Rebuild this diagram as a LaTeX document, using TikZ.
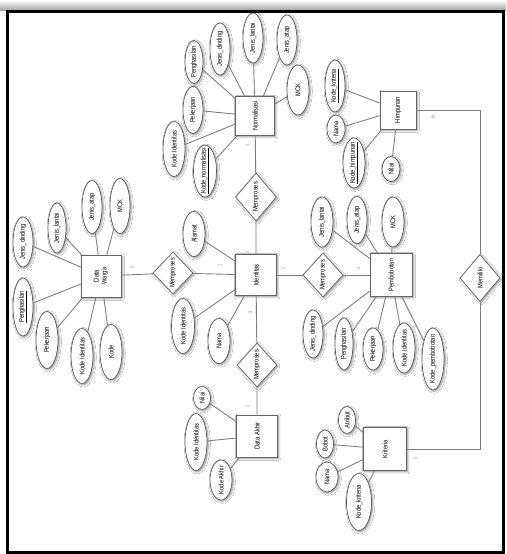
\documentclass[tikz,border=0pt]{standalone}
\usepackage{graphicx}
\usepackage{fontspec}
\setmainfont{Liberation Sans}[FakeStretch=0.82]
\usetikzlibrary{shapes.geometric,shadows.blur}
\newcommand{\rt}[1]{\rotatebox{90}{\makebox[0pt]{#1}}}
\tikzset{
  sh/.style={blur shadow={shadow xshift=1.2pt, shadow yshift=-1.2pt, shadow blur steps=6, shadow opacity=45}},
  ent/.style 2 args={rectangle, draw=black!60, line width=0.8pt, fill=white, minimum width=#1, minimum height=#2, inner sep=0pt, sh},
  rel/.style 2 args={diamond, draw=black!60, line width=0.7pt, fill=white, minimum width=#1, minimum height=#2, inner sep=0pt, sh},
  attr/.style 2 args={ellipse, draw=black!65, line width=0.7pt, fill=white, minimum width=#1, minimum height=#2, inner sep=0pt, sh},
  con/.style={draw=black!50, line width=0.9pt},
  card/.style={font=\fontsize{4.5}{5}\selectfont, text=black!60, inner sep=0pt}
}
\begin{document}
\begin{tikzpicture}[x=1pt, y=-1pt, font=\fontsize{7}{8}\selectfont]
\useasboundingbox (0,0) rectangle (506,554);
\shade[top color=white, bottom color=black!35] (0,0) rectangle (506,10);
\fill[white] (7,11) rectangle (503,552);

% entities
\node[ent={40pt}{42pt}] (dw) at (101,276) {\rotatebox{90}{\makebox[0pt]{\shortstack{Data\\Warga}}}};
\node[ent={41pt}{41pt}] (id) at (256,275) {\rt{Identitas}};
\node[ent={42pt}{43pt}] (pb) at (391,275) {\rt{Pembobotan}};
\node[ent={39pt}{39pt}] (nm) at (255,116) {\rt{Normalisasi}};
\node[ent={36pt}{38pt}] (hp) at (398,110) {\rt{Himpunan}};
\node[ent={41pt}{42pt}] (da) at (257,436) {\rt{Data Akhir}};
\node[ent={43pt}{43pt}] (kr) at (385,449) {\rt{Kriteria}};

% relationships
\node[rel={40pt}{42pt}] (r1) at (173,273) {\rt{Memproses}};
\node[rel={41pt}{48pt}] (r2) at (256,197) {\rt{Memproses}};
\node[rel={40pt}{44pt}] (r3) at (323,275) {\rt{Memproses}};
\node[rel={40pt}{44pt}] (r4) at (257,365) {\rt{Memproses}};
\node[rel={40pt}{47pt}] (r5) at (480,278) {\rt{Memiliki}};

% Data Warga attributes
\node[attr={20pt}{50pt}] (a1) at (23,242) {\rt{Jenis\_dinding}};
\node[attr={18pt}{50pt}] (a2) at (57,228) {\rt{Jenis\_lantai}};
\node[attr={20pt}{53pt}] (a3) at (92,207) {\rt{Jenis\_atap}};
\node[attr={20pt}{55pt}] (a4) at (120,206) {\rt{MCK}};
\node[attr={20pt}{58pt}] (a5) at (23,307) {\rt{\underline{Penghasilan}}};
\node[attr={22pt}{57pt}] (a6) at (47,340) {\rt{Pekerjaan}};
\node[attr={22pt}{55pt}] (a7) at (82,356) {\rt{Kode Identitas}};
\node[attr={22pt}{55pt}] (a8) at (111,352) {\rt{Kode}};

% Identitas attributes
\node[attr={22pt}{45pt}] (b1) at (194,234) {\rt{Alamat}};
\node[attr={23pt}{55pt}] (b2) at (183,326) {\rt{Kode Identitas}};
\node[attr={22pt}{45pt}] (b3) at (219,341) {\rt{Nama}};

% Normalisasi attributes
\node[attr={22pt}{55pt}] (c1) at (174,149) {\rt{Kode Identitas}};
\node[attr={20pt}{47pt}] (c2) at (193,110) {\rt{Pekerjaan}};
\node[attr={18pt}{43pt}] (c3) at (194,62) {\rt{Penghasilan}};
\node[attr={20pt}{52pt}] (c4) at (220,49) {\rt{Jenis\_dinding}};
\node[attr={20pt}{50pt}] (c5) at (253,38) {\rt{Jenis\_lantai}};
\node[attr={20pt}{50pt}] (c6) at (287,40) {\rt{Jenis\_atap}};
\node[attr={22pt}{50pt}] (c7) at (298,90) {\rt{MCK}};
\node[attr={23pt}{52pt}] (c8) at (205,171) {\rt{\underline{Kode\_normalisasi}}};

% Himpunan attributes
\node[attr={20pt}{52pt}] (d1) at (335,86) {\rt{\underline{Kode\_kriteria}}};
\node[attr={18pt}{28pt}] (d2) at (336,129) {\rt{Nama}};
\node[attr={22pt}{50pt}] (d3) at (354,163) {\rt{\underline{Kode\_himpunan}}};
\node[attr={18pt}{25pt}] (d4) at (391,169) {\rt{Nilai}};

% Pembobotan attributes
\node[attr={22pt}{50pt}] (e1) at (322,222) {\rt{Jenis\_lantai}};
\node[attr={20pt}{47pt}] (e2) at (357,220) {\rt{Jenis\_atap}};
\node[attr={22pt}{50pt}] (e3) at (393,222) {\rt{MCK}};
\node[attr={20pt}{48pt}] (e4) at (313,334) {\rt{Jenis\_dinding}};
\node[attr={18pt}{52pt}] (e5) at (344,344) {\rt{Penghasilan}};
\node[attr={20pt}{42pt}] (e6) at (373,349) {\rt{Pekerjaan}};
\node[attr={22pt}{50pt}] (e7) at (404,348) {\rt{Kode Identitas}};
\node[attr={22pt}{62pt}] (e8) at (433,359) {\rt{Kode\_pembobotan}};

% Data Akhir attributes
\node[attr={17pt}{23pt}] (f1) at (202,398) {\rt{Nilai}};
\node[attr={22pt}{57pt}] (f2) at (196,442) {\rt{Kode Identitas}};
\node[attr={22pt}{40pt}] (f3) at (221,480) {\rt{Kode Akhir}};

% Kriteria attributes
\node[attr={17pt}{27pt}] (g1) at (347,420) {\rt{Atribut}};
\node[attr={17pt}{28pt}] (g2) at (325,444) {\rt{Bobot}};
\node[attr={22pt}{30pt}] (g3) at (327,477) {\rt{Nama}};
\node[attr={25pt}{57pt}] (g4) at (359,502) {\rt{Kode\_kriteria}};

% connectors
\foreach \a in {a1,a2,a3,a4,a5,a6,a7,a8} \draw[con] (\a) -- (dw);
\foreach \a in {b1,b2,b3} \draw[con] (\a) -- (id);
\foreach \a in {c1,c2,c3,c4,c5,c6,c7,c8} \draw[con] (\a) -- (nm);
\foreach \a in {d1,d2,d3,d4} \draw[con] (\a) -- (hp);
\foreach \a in {e1,e2,e3,e4,e5,e6,e7,e8} \draw[con] (\a) -- (pb);
\foreach \a in {f1,f2,f3} \draw[con] (\a) -- (da);
\foreach \a in {g1,g2,g3,g4} \draw[con] (\a) -- (kr);
\draw[con] (dw) -- (r1) -- (id);
\draw[con] (id) -- (r3) -- (pb);
\draw[con] (id) -- (r2) -- (nm);
\draw[con] (id) -- (r4) -- (da);
\draw[con] (hp.east) -| (r5.north);
\draw[con] (r5.south) |- (kr.east);

% cardinalities
\node[card] (k1) at (132,267) {\rt{1}};
\node[card] (k2) at (220,265) {\rt{1}};
\node[card] (k3) at (247,252) {\rt{1}};
\node[card] (k4) at (283,268) {\rt{1}};
\node[card] (k5) at (358,268) {\rt{1}};
\node[card] (k6) at (250,312) {\rt{1}};
\node[card] (k7) at (247,145) {\rt{1}};
\node[card] (k8) at (247,406) {\rt{1}};
\node[card] (k9) at (415,458) {\rt{1}};
\node[card] (k10) at (433,117) {\rt{N}};

\draw[line width=3pt] (7,11) rectangle (503,552);
\end{tikzpicture}
\end{document}
